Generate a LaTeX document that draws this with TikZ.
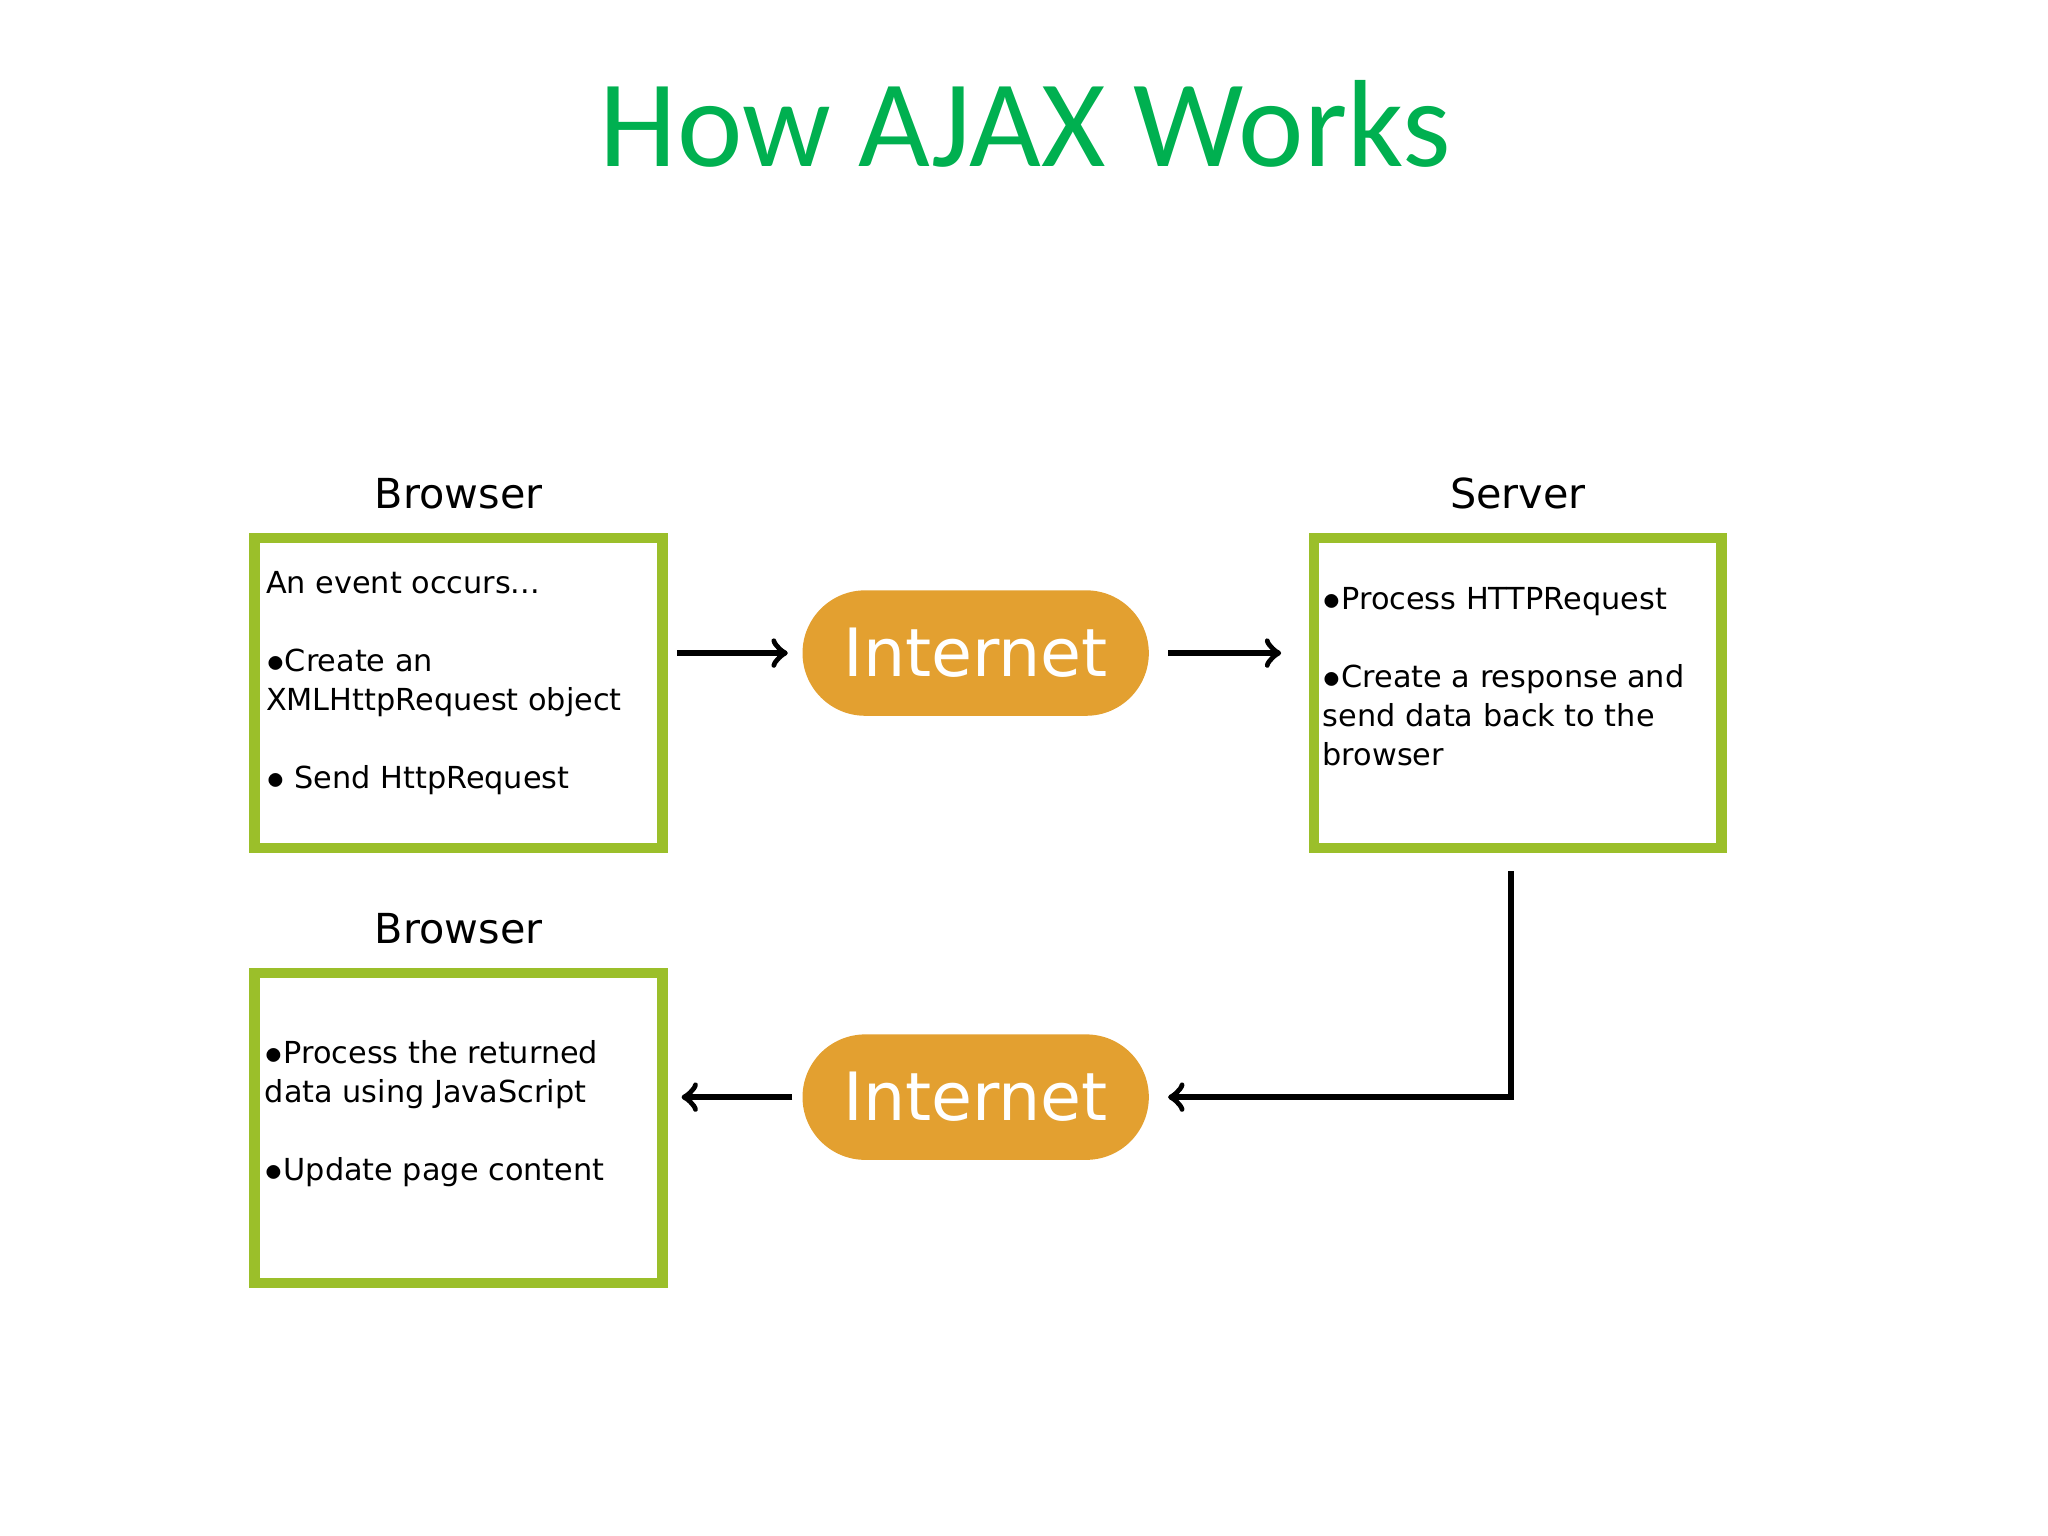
\documentclass[tikz,border=0pt]{standalone}
\usepackage{fontspec}
\setmainfont{DejaVu Sans}
\newfontfamily\titlefont{Carlito}
\usetikzlibrary{positioning}
\definecolor{titlegreen}{HTML}{00B050}
\definecolor{boxgreen}{HTML}{9BBF2A}
\definecolor{netorange}{HTML}{E3A030}
\tikzset{
	stepbox/.style={draw=boxgreen, line width=2.3pt, minimum width=3.12cm, minimum height=2.37cm, anchor=north west},
	steptext/.style={anchor=north west, align=left, inner sep=0pt, font=\fontsize{6.6}{8.5}\selectfont},
	head/.style={font=\fontsize{9}{11}\selectfont, inner sep=0pt},
	net/.style={fill=netorange, rounded corners=0.48cm, minimum width=2.65cm, minimum height=0.96cm, text=white, font=\fontsize{14.5}{16}\selectfont, inner sep=0pt},
	flow/.style={->, >=to, line width=1.3pt}
}
\begin{document}
\begin{tikzpicture}[x=0.01cm,y=-0.01cm]
		\useasboundingbox (0,0) rectangle (1568,1176);
		%title
		\node[font=\titlefont\fontsize{27}{30}\selectfont, text=titlegreen] (title) at (785,95) {How AJAX Works};
		
		%boxes
		\node[stepbox] (bro) at (191,408) {};
		\node[stepbox] (srv) at (1002,408) {};
		\node[stepbox] (ret) at (191,741) {};
		\node[head, above=5pt of bro.north] (brohead) {Browser};
		\node[head, above=5pt of srv.north] (srvhead) {Server};
		\node[head, above=5pt of ret.north] (rethead) {Browser};
		
		\node[steptext] (brotext) at (203,437) {An event occurs...\\[8.5pt]$\bullet$Create an\\XMLHttpRequest object\\[8.5pt]$\bullet$ Send HttpRequest};
		\node[steptext] (srvtext) at (1012,449) {$\bullet$Process HTTPRequest\\[8.5pt]$\bullet$Create a response and\\send data back to the\\browser};
		\node[steptext] (rettext) at (202,796) {$\bullet$Process the returned\\data using JavaScript\\[8.5pt]$\bullet$Update page content};
		
		%internet
		\node[net] (netA) at (747,500) {Internet};
		\node[net] (netB) at (747,840) {Internet};
		
		%connectors
		\coordinate (srvout) at (1157,667);
		\draw[flow] ([xshift=2pt]bro.east |- netA) -- ([xshift=-3pt]netA.west);
		\draw[flow] ([xshift=4pt]netA.east) -- ([xshift=-6pt]srv.west |- netA);
		\draw[flow] (srvout) |- ([xshift=4pt]netB.east);
		\draw[flow] ([xshift=-2pt]netB.west) -- ([xshift=3pt]ret.east |- netB);
\end{tikzpicture}
\end{document}
